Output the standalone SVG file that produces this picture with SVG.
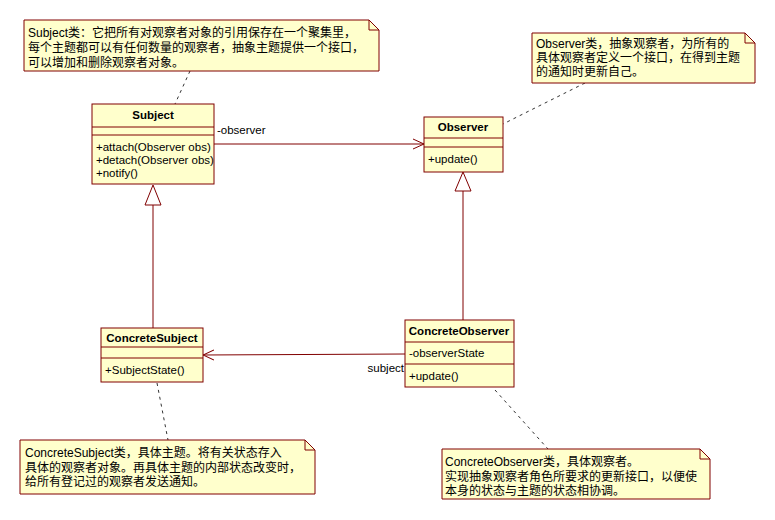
<svg xmlns="http://www.w3.org/2000/svg" width="775" height="520" viewBox="0 0 775 520">
<defs>
<style>
.box{fill:#FFFFCC;stroke:#800000;stroke-width:1}
.sep{stroke:#800000;stroke-width:1;fill:none}
.line{stroke:#800000;stroke-width:1;fill:none}
.dash{stroke:#333333;stroke-width:1;fill:none;stroke-dasharray:3,4}
.name{font-family:"Liberation Sans",Arial,sans-serif;font-size:11.5px;font-weight:bold;text-anchor:middle;fill:#000}
.mem{font-family:"Liberation Sans",Arial,sans-serif;font-size:11.5px;fill:#000}
.note{font-family:"Liberation Sans","Noto Sans CJK SC",sans-serif;font-size:12px;fill:#000}
</style>
<marker id="open" viewBox="0 0 12 12" refX="11" refY="6" markerWidth="12" markerHeight="12" markerUnits="userSpaceOnUse" orient="auto">
<path d="M0,1 L11,6 L0,11" fill="none" stroke="#800000" stroke-width="1"/>
</marker>
</defs>
<rect width="775" height="520" fill="#ffffff"/>

<g id="connectors">
<line class="line" x1="214" y1="144" x2="424" y2="144" marker-end="url(#open)"/>
<line class="line" x1="405" y1="354" x2="203" y2="355" marker-end="url(#open)"/>
<line class="line" x1="153" y1="205" x2="153" y2="328"/>
<path class="line" d="M153,185 L145,205 L161,205 Z" fill="#ffffff"/>
<line class="line" x1="463" y1="191" x2="463" y2="320"/>
<path class="line" d="M463,172 L455,191 L471,191 Z" fill="#ffffff"/>
<line class="dash" x1="190" y1="71" x2="175" y2="104"/>
<line class="dash" x1="585" y1="83" x2="503" y2="124"/>
<line class="dash" x1="157" y1="383" x2="168" y2="440"/>
<line class="dash" x1="495" y1="390" x2="548" y2="449"/>
<text class="mem" x="217" y="134">-observer</text>
<text class="mem" x="404" y="372" text-anchor="end">subject</text>
</g>

<g id="note-subject">
<path class="box" d="M24,20 H369 L379,30 V71 H24 Z"/>
<path class="sep" d="M369,20 V30 H379"/>
<text class="note" x="28" y="37">Subject类：它把所有对观察者对象的引用保存在一个聚集里，</text>
<text class="note" x="28" y="52">每个主题都可以有任何数量的观察者，抽象主题提供一个接口，</text>
<text class="note" x="28" y="67">可以增加和删除观察者对象。</text>
</g>

<g id="note-observer">
<path class="box" d="M532,33 H745 L755,43 V83 H532 Z"/>
<path class="sep" d="M745,33 V43 H755"/>
<text class="note" x="536" y="48">Observer类，抽象观察者，为所有的</text>
<text class="note" x="536" y="62">具体观察者定义一个接口，在得到主题</text>
<text class="note" x="536" y="76">的通知时更新自己。</text>
</g>

<g id="subject">
<rect class="box" x="92" y="104" width="122" height="80"/>
<line class="sep" x1="92" y1="127" x2="214" y2="127"/>
<line class="sep" x1="92" y1="135" x2="214" y2="135"/>
<text class="name" x="153" y="119">Subject</text>
<text class="mem" x="96" y="151">+attach(Observer obs)</text>
<text class="mem" x="96" y="164">+detach(Observer obs)</text>
<text class="mem" x="96" y="177">+notify()</text>
</g>

<g id="observer">
<rect class="box" x="424" y="117" width="79" height="55"/>
<line class="sep" x1="424" y1="138" x2="503" y2="138"/>
<line class="sep" x1="424" y1="147" x2="503" y2="147"/>
<text class="name" x="463" y="131">Observer</text>
<text class="mem" x="428" y="163">+update()</text>
</g>

<g id="concrete-subject">
<rect class="box" x="101" y="328" width="102" height="54"/>
<line class="sep" x1="101" y1="347" x2="203" y2="347"/>
<line class="sep" x1="101" y1="358" x2="203" y2="358"/>
<text class="name" x="152" y="342">ConcreteSubject</text>
<text class="mem" x="105" y="374">+SubjectState()</text>
</g>

<g id="concrete-observer">
<rect class="box" x="405" y="320" width="109" height="67"/>
<line class="sep" x1="405" y1="342" x2="514" y2="342"/>
<line class="sep" x1="405" y1="364" x2="514" y2="364"/>
<text class="name" x="459" y="335">ConcreteObserver</text>
<text class="mem" x="409" y="357">-observerState</text>
<text class="mem" x="409" y="380">+update()</text>
</g>

<g id="note-concrete-subject">
<path class="box" d="M20,440 H305 L315,450 V494 H20 Z"/>
<path class="sep" d="M305,440 V450 H315"/>
<text class="note" x="25" y="457">ConcreteSubject类，具体主题。将有关状态存入</text>
<text class="note" x="25" y="472">具体的观察者对象。再具体主题的内部状态改变时，</text>
<text class="note" x="25" y="486">给所有登记过的观察者发送通知。</text>
</g>

<g id="note-concrete-observer">
<path class="box" d="M442,449 H700 L710,459 V499 H442 Z"/>
<path class="sep" d="M700,449 V459 H710"/>
<text class="note" x="445" y="466">ConcreteObserver类，具体观察者。</text>
<text class="note" x="445" y="481">实现抽象观察者角色所要求的更新接口，以便使</text>
<text class="note" x="445" y="495">本身的状态与主题的状态相协调。</text>
</g>
</svg>
